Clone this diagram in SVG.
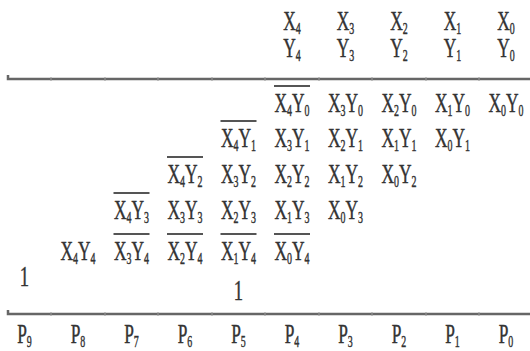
<svg xmlns="http://www.w3.org/2000/svg" width="530" height="351" viewBox="0 0 530 351">
<style>
.t{font-family:"Liberation Serif","Times New Roman",serif;font-size:28px;fill:#333;stroke:#333;stroke-width:0.45;text-anchor:middle}
.s{font-size:16px}
.ol{stroke:#555;stroke-width:2}
.rule{stroke:#666;stroke-width:2.5;fill:none}
.tick{stroke:#999;stroke-width:1}
</style>
<rect width="530" height="351" fill="#fff"/>
<g id="rules">
<path class="rule" d="M8,75 L8,79 L530,79"/>
<path class="rule" d="M8,310 L8,314 L530,314"/>
<g class="tick">
<path d="M51,77V81M105,77V81M158,77V81M212,77V81M265,77V81M319,77V81M372,77V81M426,77V81M479,77V81"/>
<path d="M51,312V316M105,312V316M158,312V316M212,312V316M265,312V316M319,312V316M372,312V316M426,312V316M479,312V316"/>
</g>
</g>
<g id="multiplicand">
<g id="x4"><text class="t" transform="translate(292,30) scale(0.62,1)">X<tspan class="s" dy="4">4</tspan></text></g>
<g id="x3"><text class="t" transform="translate(345.5,30) scale(0.62,1)">X<tspan class="s" dy="4">3</tspan></text></g>
<g id="x2"><text class="t" transform="translate(399,30) scale(0.62,1)">X<tspan class="s" dy="4">2</tspan></text></g>
<g id="x1"><text class="t" transform="translate(452.5,30) scale(0.62,1)">X<tspan class="s" dy="4">1</tspan></text></g>
<g id="x0"><text class="t" transform="translate(506,30) scale(0.62,1)">X<tspan class="s" dy="4">0</tspan></text></g>
</g>
<g id="multiplier">
<g id="y4"><text class="t" transform="translate(292,57) scale(0.62,1)">Y<tspan class="s" dy="4">4</tspan></text></g>
<g id="y3"><text class="t" transform="translate(345.5,57) scale(0.62,1)">Y<tspan class="s" dy="4">3</tspan></text></g>
<g id="y2"><text class="t" transform="translate(399,57) scale(0.62,1)">Y<tspan class="s" dy="4">2</tspan></text></g>
<g id="y1"><text class="t" transform="translate(452.5,57) scale(0.62,1)">Y<tspan class="s" dy="4">1</tspan></text></g>
<g id="y0"><text class="t" transform="translate(506,57) scale(0.62,1)">Y<tspan class="s" dy="4">0</tspan></text></g>
</g>
<g id="row0">
<g id="x4y0"><line class="ol" x1="274" y1="86" x2="310" y2="86"/><text class="t" transform="translate(292,112) scale(0.62,1)">X<tspan class="s" dy="4">4</tspan><tspan dy="-4">Y</tspan><tspan class="s" dy="4">0</tspan></text></g>
<g id="x3y0"><text class="t" transform="translate(345.5,112) scale(0.62,1)">X<tspan class="s" dy="4">3</tspan><tspan dy="-4">Y</tspan><tspan class="s" dy="4">0</tspan></text></g>
<g id="x2y0"><text class="t" transform="translate(399,112) scale(0.62,1)">X<tspan class="s" dy="4">2</tspan><tspan dy="-4">Y</tspan><tspan class="s" dy="4">0</tspan></text></g>
<g id="x1y0"><text class="t" transform="translate(452.5,112) scale(0.62,1)">X<tspan class="s" dy="4">1</tspan><tspan dy="-4">Y</tspan><tspan class="s" dy="4">0</tspan></text></g>
<g id="x0y0"><text class="t" transform="translate(506,112) scale(0.62,1)">X<tspan class="s" dy="4">0</tspan><tspan dy="-4">Y</tspan><tspan class="s" dy="4">0</tspan></text></g>
</g>
<g id="row1">
<g id="x4y1"><line class="ol" x1="220.5" y1="121" x2="256.5" y2="121"/><text class="t" transform="translate(238.5,147) scale(0.62,1)">X<tspan class="s" dy="4">4</tspan><tspan dy="-4">Y</tspan><tspan class="s" dy="4">1</tspan></text></g>
<g id="x3y1"><text class="t" transform="translate(292,147) scale(0.62,1)">X<tspan class="s" dy="4">3</tspan><tspan dy="-4">Y</tspan><tspan class="s" dy="4">1</tspan></text></g>
<g id="x2y1"><text class="t" transform="translate(345.5,147) scale(0.62,1)">X<tspan class="s" dy="4">2</tspan><tspan dy="-4">Y</tspan><tspan class="s" dy="4">1</tspan></text></g>
<g id="x1y1"><text class="t" transform="translate(399,147) scale(0.62,1)">X<tspan class="s" dy="4">1</tspan><tspan dy="-4">Y</tspan><tspan class="s" dy="4">1</tspan></text></g>
<g id="x0y1"><text class="t" transform="translate(452.5,147) scale(0.62,1)">X<tspan class="s" dy="4">0</tspan><tspan dy="-4">Y</tspan><tspan class="s" dy="4">1</tspan></text></g>
</g>
<g id="row2">
<g id="x4y2"><line class="ol" x1="167" y1="157" x2="203" y2="157"/><text class="t" transform="translate(185,183) scale(0.62,1)">X<tspan class="s" dy="4">4</tspan><tspan dy="-4">Y</tspan><tspan class="s" dy="4">2</tspan></text></g>
<g id="x3y2"><text class="t" transform="translate(238.5,183) scale(0.62,1)">X<tspan class="s" dy="4">3</tspan><tspan dy="-4">Y</tspan><tspan class="s" dy="4">2</tspan></text></g>
<g id="x2y2"><text class="t" transform="translate(292,183) scale(0.62,1)">X<tspan class="s" dy="4">2</tspan><tspan dy="-4">Y</tspan><tspan class="s" dy="4">2</tspan></text></g>
<g id="x1y2"><text class="t" transform="translate(345.5,183) scale(0.62,1)">X<tspan class="s" dy="4">1</tspan><tspan dy="-4">Y</tspan><tspan class="s" dy="4">2</tspan></text></g>
<g id="x0y2"><text class="t" transform="translate(399,183) scale(0.62,1)">X<tspan class="s" dy="4">0</tspan><tspan dy="-4">Y</tspan><tspan class="s" dy="4">2</tspan></text></g>
</g>
<g id="row3">
<g id="x4y3"><line class="ol" x1="113.5" y1="193" x2="149.5" y2="193"/><text class="t" transform="translate(131.5,219) scale(0.62,1)">X<tspan class="s" dy="4">4</tspan><tspan dy="-4">Y</tspan><tspan class="s" dy="4">3</tspan></text></g>
<g id="x3y3"><text class="t" transform="translate(185,219) scale(0.62,1)">X<tspan class="s" dy="4">3</tspan><tspan dy="-4">Y</tspan><tspan class="s" dy="4">3</tspan></text></g>
<g id="x2y3"><text class="t" transform="translate(238.5,219) scale(0.62,1)">X<tspan class="s" dy="4">2</tspan><tspan dy="-4">Y</tspan><tspan class="s" dy="4">3</tspan></text></g>
<g id="x1y3"><text class="t" transform="translate(292,219) scale(0.62,1)">X<tspan class="s" dy="4">1</tspan><tspan dy="-4">Y</tspan><tspan class="s" dy="4">3</tspan></text></g>
<g id="x0y3"><text class="t" transform="translate(345.5,219) scale(0.62,1)">X<tspan class="s" dy="4">0</tspan><tspan dy="-4">Y</tspan><tspan class="s" dy="4">3</tspan></text></g>
</g>
<g id="row4">
<g id="x4y4"><text class="t" transform="translate(78,260) scale(0.62,1)">X<tspan class="s" dy="4">4</tspan><tspan dy="-4">Y</tspan><tspan class="s" dy="4">4</tspan></text></g>
<g id="x3y4"><line class="ol" x1="113.5" y1="234" x2="149.5" y2="234"/><text class="t" transform="translate(131.5,260) scale(0.62,1)">X<tspan class="s" dy="4">3</tspan><tspan dy="-4">Y</tspan><tspan class="s" dy="4">4</tspan></text></g>
<g id="x2y4"><line class="ol" x1="167" y1="234" x2="203" y2="234"/><text class="t" transform="translate(185,260) scale(0.62,1)">X<tspan class="s" dy="4">2</tspan><tspan dy="-4">Y</tspan><tspan class="s" dy="4">4</tspan></text></g>
<g id="x1y4"><line class="ol" x1="220.5" y1="234" x2="256.5" y2="234"/><text class="t" transform="translate(238.5,260) scale(0.62,1)">X<tspan class="s" dy="4">1</tspan><tspan dy="-4">Y</tspan><tspan class="s" dy="4">4</tspan></text></g>
<g id="x0y4"><line class="ol" x1="274" y1="234" x2="310" y2="234"/><text class="t" transform="translate(292,260) scale(0.62,1)">X<tspan class="s" dy="4">0</tspan><tspan dy="-4">Y</tspan><tspan class="s" dy="4">4</tspan></text></g>
</g>
<g id="one-p9"><text class="t" transform="translate(24.5,286) scale(0.62,1)" style="font-size:30px">1</text></g>
<g id="one-p5"><text class="t" transform="translate(238.5,300) scale(0.62,1)" style="font-size:30px">1</text></g>
<g id="result">
<g id="p9"><text class="t" transform="translate(24.5,343) scale(0.62,1)">P<tspan class="s" dy="4">9</tspan></text></g>
<g id="p8"><text class="t" transform="translate(78,343) scale(0.62,1)">P<tspan class="s" dy="4">8</tspan></text></g>
<g id="p7"><text class="t" transform="translate(131.5,343) scale(0.62,1)">P<tspan class="s" dy="4">7</tspan></text></g>
<g id="p6"><text class="t" transform="translate(185,343) scale(0.62,1)">P<tspan class="s" dy="4">6</tspan></text></g>
<g id="p5"><text class="t" transform="translate(238.5,343) scale(0.62,1)">P<tspan class="s" dy="4">5</tspan></text></g>
<g id="p4"><text class="t" transform="translate(292,343) scale(0.62,1)">P<tspan class="s" dy="4">4</tspan></text></g>
<g id="p3"><text class="t" transform="translate(345.5,343) scale(0.62,1)">P<tspan class="s" dy="4">3</tspan></text></g>
<g id="p2"><text class="t" transform="translate(399,343) scale(0.62,1)">P<tspan class="s" dy="4">2</tspan></text></g>
<g id="p1"><text class="t" transform="translate(452.5,343) scale(0.62,1)">P<tspan class="s" dy="4">1</tspan></text></g>
<g id="p0"><text class="t" transform="translate(506,343) scale(0.62,1)">P<tspan class="s" dy="4">0</tspan></text></g>
</g>
</svg>
